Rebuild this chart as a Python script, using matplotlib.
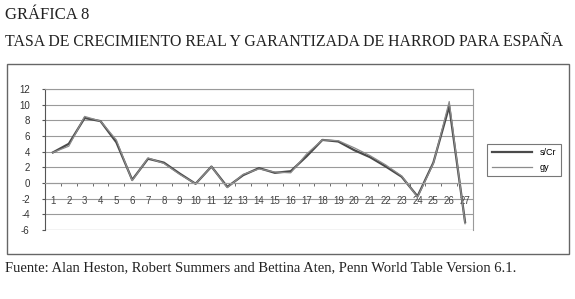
import matplotlib
matplotlib.use("Agg")
import matplotlib.pyplot as plt
from matplotlib.patches import Rectangle

# datos
periodos = list(range(1, 28))
etiquetas = [str(p) for p in periodos]
s_cr = [3.9, 5.0, 8.3, 7.9, 5.2, 0.4, 3.1, 2.6, 1.2, -0.1, 2.1, -0.5, 1.0, 1.9,
        1.3, 1.5, 3.4, 5.5, 5.3, 4.2, 3.3, 2.1, 0.8, -1.7, 2.6, 9.8, -5.0]
gy = [3.9, 4.7, 8.5, 7.9, 5.5, 0.3, 3.2, 2.5, 1.1, -0.1, 2.1, -0.6, 1.1, 1.8,
      1.4, 1.3, 3.7, 5.5, 5.4, 4.5, 3.5, 2.3, 0.9, -1.8, 2.5, 10.4, -5.2]
yticks = list(range(-6, 13, 2))

W, H = 575, 299
fig = plt.figure(figsize=(W / 100, H / 100), dpi=100)

# titulo
fig.text(5 / W, 1 - 15 / H, "GRÁFICA 8", family="Liberation Serif",
         fontsize=12, va="center", ha="left", color="#222222")
fig.text(5 / W, 1 - 42 / H,
         "TASA DE CRECIMIENTO REAL Y GARANTIZADA DE HARROD PARA ESPAÑA",
         family="Liberation Serif", fontsize=11.4, va="center", ha="left",
         color="#222222")

# marco exterior del grafico
fig.patches.append(Rectangle((7 / W, 1 - 254 / H), 562 / W, 190 / H,
                             transform=fig.transFigure, fill=False,
                             edgecolor="#666666", linewidth=1.0))

ax = fig.add_axes([45 / W, 1 - 230 / H, 428 / W, 141 / H])
ax.plot(periodos, s_cr, color="#4a4a4a", linewidth=1.6, label="s/Cr")
ax.plot(periodos, gy, color="#8c8c8c", linewidth=0.9, label="gy")

ax.set_xlim(0.5, 27.5)
ax.set_ylim(-6, 12)
ax.set_yticks(yticks)
ax.set_yticklabels([str(v) for v in yticks])
for y in yticks:
    ax.axhline(y, color="#9a9a9a", linewidth=0.8, zorder=0)

ax.spines["bottom"].set_position(("data", 0))
ax.spines["bottom"].set_color("#9a9a9a")
ax.spines["bottom"].set_linewidth(0.8)
ax.spines["top"].set_color("#9a9a9a")
ax.spines["right"].set_color("#9a9a9a")
ax.spines["left"].set_color("#555555")
ax.set_xticks(periodos)
ax.set_xticklabels(etiquetas)
ax.set_xticks([p + 0.5 for p in periodos[:-1]], minor=True)
ax.tick_params(axis="x", which="major", length=0, pad=9, labelsize=7,
               labelcolor="#444444")
ax.tick_params(axis="x", which="minor", length=2.5, direction="out",
               color="#555555")
ax.tick_params(axis="y", length=2, pad=9, labelsize=7, labelcolor="#333333",
               color="#555555")
for lab in ax.get_xticklabels() + ax.get_yticklabels():
    lab.set_family("Liberation Sans")

# linea inferior en -6
ax.axhline(-6, color="#9a9a9a", linewidth=0.8)

leg = fig.legend(loc="center", bbox_to_anchor=(524 / W, 1 - 160 / H),
                 handlelength=4.5, frameon=True, fancybox=False,
                 edgecolor="#555555", borderpad=0.5, labelspacing=0.6,
                 prop={"family": "Liberation Sans", "size": 6.5})
leg.get_frame().set_linewidth(0.8)

fig.text(5 / W, 1 - 268 / H,
         "Fuente: Alan Heston, Robert Summers and Bettina Aten, "
         "Penn World Table Version 6.1.",
         family="Liberation Serif", fontsize=10.5, va="center", ha="left",
         color="#222222")

fig.savefig("out.png", dpi=100)
